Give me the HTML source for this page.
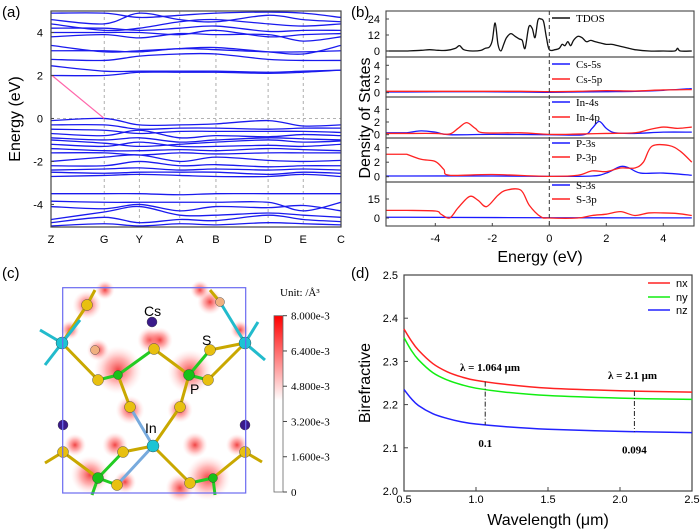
<!DOCTYPE html>
<html><head><meta charset="utf-8"><style>
html,body{margin:0;padding:0;background:#fff}
svg{display:block;font-family:"Liberation Sans",sans-serif}
.serif{font-family:"Liberation Serif",serif}
</style></head><body>
<svg id="fig" width="700" height="532" viewBox="0 0 700 532" xmlns="http://www.w3.org/2000/svg">
<defs>
<linearGradient id="cbar" x1="0" y1="0" x2="0" y2="1">
<stop offset="0" stop-color="#f00"/><stop offset="0.48" stop-color="#fff"/><stop offset="1" stop-color="#fff"/>
</linearGradient>
<radialGradient id="blob"><stop offset="0" stop-color="#e22" stop-opacity="0.85"/><stop offset="0.5" stop-color="#f66" stop-opacity="0.5"/><stop offset="1" stop-color="#fcc" stop-opacity="0"/></radialGradient>
</defs>
<g id="pa"></g>
<g id="pb"></g>
<g id="pc"></g>
<g id="pd"></g>
</svg>
<script>
// ===== Panel (a) data =====
const kLabels=["Z","G","Y","A","B","D","E","C"];
const kPos=[0,1,1.66,2.42,3.1,4.08,4.74,5.45];
const bandE=[
[2.0,2.0,2.15,2.15,2.15,2.1,2.15,2.25],
[2.45,2.2,2.2,2.2,2.2,2.15,2.2,2.25],
[2.75,2.7,2.9,3.0,3.0,2.75,2.7,2.7],
[3.15,3.15,3.1,3.25,3.2,3.1,3.1,3.15],
[3.4,3.1,3.15,3.25,3.3,3.1,3.0,3.4],
[3.8,3.9,3.75,3.95,3.9,3.9,3.6,3.8],
[4.0,4.0,4.0,3.9,4.1,3.8,3.9,3.95],
[4.2,4.2,4.1,4.2,4.3,4.05,4.1,4.1],
[4.4,4.1,4.2,4.5,4.6,4.4,4.3,4.4],
[4.6,4.4,4.9,4.6,4.5,4.8,4.6,4.5],
[4.9,4.9,4.7,4.8,4.9,4.95,4.9,4.7],
[-0.1,0.0,-0.3,-0.3,-0.25,-0.1,-0.35,-0.3],
[-0.3,-0.3,-0.5,-0.45,-0.45,-0.5,-0.45,-0.45],
[-0.5,-0.55,-0.7,-0.6,-0.6,-0.6,-0.6,-0.65],
[-0.7,-0.8,-0.55,-0.9,-0.8,-0.85,-0.75,-0.8],
[-0.9,-1.0,-0.9,-1.1,-1.0,-0.9,-0.95,-1.0],
[-1.0,-1.15,-1.3,-1.2,-1.1,-1.0,-1.1,-1.05],
[-1.2,-1.3,-1.1,-1.3,-1.3,-1.25,-1.3,-1.2],
[-1.4,-1.5,-1.5,-1.45,-1.5,-1.4,-1.45,-1.5],
[-1.6,-1.6,-1.7,-1.6,-1.65,-1.6,-1.6,-1.6],
[-2.0,-1.8,-1.7,-2.0,-1.8,-1.95,-2.0,-1.95],
[-2.2,-2.2,-2.0,-2.2,-2.15,-2.25,-2.2,-2.2],
[-2.4,-2.35,-2.3,-2.4,-2.35,-2.4,-2.35,-2.4],
[-2.5,-2.55,-2.5,-2.5,-2.5,-2.6,-2.5,-2.55],
[-2.7,-2.65,-2.6,-2.65,-2.7,-2.7,-2.6,-2.7],
[-3.5,-3.5,-3.5,-3.55,-3.5,-3.5,-3.5,-3.5],
[-3.85,-3.9,-3.9,-3.9,-3.9,-3.9,-4.3,-3.9],
[-4.1,-4.2,-4.0,-4.3,-4.1,-4.15,-4.05,-4.3],
[-4.7,-4.35,-4.1,-4.5,-4.5,-4.4,-4.5,-4.6],
[-4.85,-4.6,-4.85,-4.7,-4.75,-4.5,-4.7,-4.8],
[-5.0,-4.9,-5.0,-4.9,-4.95,-4.85,-4.9,-4.95]
];
const aTicks=[4,2,0,-2,-4];
// ===== Panel (b) data =====
const tdosE=[-5,-4.5,-4.2,-3.9,-3.6,-3.3,-3.15,-3.0,-2.7,-2.4,-2.25,-2.1,-2.0,-1.9,-1.8,-1.7,-1.6,-1.5,-1.35,-1.2,-1.05,-0.95,-0.85,-0.72,-0.6,-0.5,-0.4,-0.3,-0.2,-0.1,0,0.2,0.35,0.45,0.55,0.65,0.75,0.85,1.0,1.15,1.3,1.45,1.6,1.8,2.0,2.2,2.4,2.6,2.8,3.0,3.5,4.0,4.4,4.5,4.6,5];
const tdosV=[0,0.5,1,0.5,0.5,2,4,1,0,0.5,2,3,8,21,5,0,5,10,13,11,9,8,2,18,17,10,23,24,22,10,1,1,2,5,4,7,4,8,11,10,7,8,7,6,5,5,4,3,2,1,0,0,0,2,0,0];
const csE=[-5,-3,-1,0,1,2,3,4,5];
const cs5s=[0.1,0.15,0.1,0.05,0.1,0.15,0.2,0.35,0.6];
const cs5p=[0.2,0.2,0.2,0.15,0.2,0.3,0.25,0.4,0.45];
const in4sE=[-5,-4.5,-4,-3.5,-2,0,1.2,1.5,1.75,2,2.3,3,4,5];
const in4s=[0.3,0.6,0.4,0,0.05,0,0,1,2.1,1,0.3,0.2,0.4,0.4];
const in4pE=[-5,-4,-3.5,-3.2,-2.9,-2.6,-2.3,-1,0,1,2,3,3.5,4,4.5,5];
const in4p=[0.2,0.2,0.1,1,1.9,1,0.3,0.3,0.05,0.1,0.2,0.3,0.8,1.2,1,1.2];
const p3sE=[-5,-2,0,1.5,2,2.5,2.8,3.2,4,5];
const p3s=[0.1,0.1,0.05,0.1,0.5,1.4,1.2,0.5,0.5,0.2];
const p3pE=[-5,-4.5,-4,-3.7,-3.5,-2,0,1,1.5,2,2.5,3,3.3,3.6,4.2,4.6,5];
const p3p=[3.1,2.4,2.1,1,0.2,0.3,0.05,0.2,0.8,0.7,1.2,1.2,2,4.2,4.3,3.5,2];
const s3sE=[-5,0,5];
const s3s=[0.6,0.2,0.1];
const s3pE=[-5,-4,-3.8,-3.5,-3.2,-2.8,-2.5,-2.2,-1.8,-1.5,-1,-0.7,-0.3,0,1,1.5,2,2.5,3,3.5,4,4.5,5];
const s3p=[6,5.5,3,0,8,17,14,9,18,22,22,10,1,0,0,2,3,5,2,4,4,3.5,2];
const bTicks=[-4,-2,0,2,4];
// ===== Panel (d) data =====
const wl=[0.5,0.55,0.6,0.7,0.8,0.9,1.0,1.2,1.5,2.0,2.5];
const nx=[2.375,2.348,2.326,2.295,2.276,2.264,2.256,2.247,2.238,2.232,2.229];
const ny=[2.355,2.326,2.304,2.274,2.257,2.246,2.238,2.229,2.221,2.215,2.212];
const nz=[2.235,2.214,2.198,2.179,2.168,2.160,2.155,2.149,2.143,2.138,2.135];
const dXTicks=[0.5,1.0,1.5,2.0,2.5];
const dYTicks=[2.0,2.1,2.2,2.3,2.4,2.5];
const markW=[1.064,2.1];
const markTxt=["0.1","0.094"];

const NS="http://www.w3.org/2000/svg";
function el(tag,attrs,parent,txt){const e=document.createElementNS(NS,tag);for(const k in attrs)e.setAttribute(k,attrs[k]);if(txt!==undefined)e.textContent=txt;parent.appendChild(e);return e;}
function smooth(pts){let d="M"+pts[0][0].toFixed(2)+","+pts[0][1].toFixed(2);for(let i=0;i<pts.length-1;i++){const p0=pts[i-1]||pts[i],p1=pts[i],p2=pts[i+1],p3=pts[i+2]||p2;const c1=[p1[0]+(p2[0]-p0[0])/6,p1[1]+(p2[1]-p0[1])/6],c2=[p2[0]-(p3[0]-p1[0])/6,p2[1]-(p3[1]-p1[1])/6];d+="C"+c1[0].toFixed(2)+","+c1[1].toFixed(2)+" "+c2[0].toFixed(2)+","+c2[1].toFixed(2)+" "+p2[0].toFixed(2)+","+p2[1].toFixed(2);}return d;}

// ===== Panel (a) =====
(function(){
const g=document.getElementById('pa');
const L=51,R=341,T=11,B=227;
const X=k=>L+(R-L)*k/kPos[kPos.length-1];
const Y=e=>T+(5-e)/10.05*(B-T);
let t=el('text',{x:2,y:17,'font-size':15},g,'(a)');


const clip=el('clipPath',{id:'clipA'},g);el('rect',{x:L,y:T,width:R-L,height:B-T},clip);
kPos.forEach((k,i)=>{
 if(i>0&&i<kPos.length-1){const v=el('line',{x1:X(k),x2:X(k),y1:T,y2:B,stroke:'#999','stroke-dasharray':'3,3','stroke-width':0.8},g);
 
 }
 const lb=el('text',{x:X(k),y:243,'font-size':11,'text-anchor':'middle'},g,kLabels[i]);
 
 
});
const fl=el('line',{x1:L,x2:R,y1:Y(0),y2:Y(0),stroke:'#999','stroke-dasharray':'3,3','stroke-width':0.8},g);


const bg=el('g',{'clip-path':'url(#clipA)'},g);
bandE.forEach(b=>{
 const p=el('path',{d:smooth(b.map((e,i)=>[X(kPos[i]),Y(e)])),fill:'none',stroke:'#1a1aee','stroke-width':1.3},bg);
 
 
});
const ar=el('line',{x1:X(kPos[1]),y1:Y(0),x2:L+1,y2:Y(2),stroke:'#f6a','stroke-width':1.2},g);


const fr=el('rect',{x:L,y:T,width:R-L,height:B-T,fill:'none',stroke:'#444','stroke-width':1.2},g);


aTicks.forEach(v=>{
 const tk=el('line',{x1:L,x2:L+3,y1:Y(v),y2:Y(v),stroke:'#444'},g);
 
 
 const tl=el('text',{x:L-8,y:Y(v)+4,'font-size':11,'text-anchor':'end'},g,String(v));
 
 
});
const yt=el('text',{transform:'translate(20,119) rotate(-90)','font-size':16,'text-anchor':'middle'},g,'Energy (eV)');


})();

// ===== Panel (b) =====
(function(){
const g=document.getElementById('pb');
const L=386,R=694;
const X=e=>549.3+e*28.5;
let t=el('text',{x:351,y:17,'font-size':15},g,'(b)');


const subs=[
 {top:11,bot:57,zero:51,scale:1.333,ticks:[24,12,0],series:[[tdosE,tdosV,'#111','TDOS',18]]},
 {top:57,bot:97,zero:92.7,scale:6.85,ticks:[4,2,0],series:[[csE,cs5s,'#1a1aff','Cs-5s',64],[csE,cs5p,'#f22','Cs-5p',79]]},
 {top:97,bot:138,zero:134.7,scale:6.35,ticks:[4,2,0],series:[[in4sE,in4s,'#1a1aff','In-4s',102],[in4pE,in4p,'#f22','In-4p',117]]},
 {top:138,bot:182,zero:176.7,scale:7.25,ticks:[4,2,0],series:[[p3sE,p3s,'#1a1aff','P-3s',143],[p3pE,p3p,'#f22','P-3p',157]]},
 {top:182,bot:226,zero:218,scale:1.267,ticks:[15,0],series:[[s3sE,s3s,'#1a1aff','S-3s',185],[s3pE,s3p,'#f22','S-3p',199]]}
];
subs.forEach((s,si)=>{
 const cid='clipB'+si;const c=el('clipPath',{id:cid},g);el('rect',{x:L,y:s.top,width:R-L,height:s.bot-s.top},c);
 const sg=el('g',{'clip-path':'url(#'+cid+')'},g);
 s.series.forEach(sr=>{
  const pts=sr[0].map((e,i)=>[X(e),s.zero-sr[1][i]*s.scale]);
  const d="M"+L+","+pts[0][1].toFixed(2)+"L"+smooth(pts).slice(1);
  const p=el('path',{d:d,fill:'none',stroke:sr[2],'stroke-width':1.3},sg);
  
  
  const ll=el('line',{x1:552,x2:570,y1:sr[4],y2:sr[4],stroke:sr[2],'stroke-width':1.5},g);
  
  
  const lt=el('text',{x:576,y:sr[4]+4,'font-size':11,class:'serif'},g,sr[3]);
  
  
 });
 const fr=el('rect',{x:L,y:s.top,width:R-L,height:s.bot-s.top,fill:'none',stroke:'#444','stroke-width':1.1},g);
 
 
 s.ticks.forEach(v=>{
  const y=s.zero-v*s.scale;
  const tk=el('line',{x1:L,x2:L+3,y1:y,y2:y,stroke:'#444'},g);
  
  
  const tl=el('text',{x:L-6,y:y+4,'font-size':11,'text-anchor':'end'},g,String(v));
  
  
 });
});
const zl=el('line',{x1:X(0),x2:X(0),y1:11,y2:226,stroke:'#333','stroke-dasharray':'4,3','stroke-width':1},g);


bTicks.forEach(v=>{
 const tk=el('line',{x1:X(v),x2:X(v),y1:226,y2:223,stroke:'#444'},g);
 
 
 const tl=el('text',{x:X(v),y:242,'font-size':11,'text-anchor':'middle'},g,String(v));
 
 
});
const xt=el('text',{x:540,y:262,'font-size':16,'text-anchor':'middle'},g,'Energy (eV)');


const yt=el('text',{transform:'translate(370,118) rotate(-90)','font-size':16,'text-anchor':'middle'},g,'Density of States');


})();

// ===== Panel (c) =====
(function(){
const g=document.getElementById('pc');
let t=el('text',{x:2,y:278,'font-size':15},g,'(c)');


const blobs=[[87,305,9],[118,370,15],[190,372,14],[98,350,7],[210,302,8],[150,340,8],[160,340,8],[130,410,9],[180,410,8],[75,445,7],[237,445,7],[115,445,8],[195,445,8],[90,475,12],[208,478,14],[125,482,7],[180,488,9],[105,290,6],[200,290,6],[70,330,6],[240,330,6]];
blobs.forEach(b=>{const c=el('circle',{cx:b[0],cy:b[1],r:b[2]*1.6,fill:'url(#blob)'},g);
 
 });
const bonds=[[62,343,87,305,'#c9a800'],[62,343,98,380,'#c9a800'],[98,380,118,375,'#2c2'],[118,375,154,349,'#2c2'],[154,349,189,375,'#c9a800'],[189,375,208,380,'#2c2'],[208,380,245,343,'#c9a800'],[189,375,210,350,'#2c2'],[210,350,245,343,'#c9a800'],[189,375,180,407,'#c9a800'],[180,407,153,446,'#c9a800'],[153,446,130,407,'#7ad'],[130,407,118,375,'#c9a800'],[153,446,123,452,'#c9a800'],[123,452,98,478,'#2c2'],[98,478,63,452,'#c9a800'],[98,478,117,485,'#2c2'],[117,485,153,446,'#7ad'],[153,446,190,483,'#c9a800'],[190,483,213,478,'#2c2'],[213,478,245,452,'#c9a800'],[62,343,40,330,'#2bc'],[62,343,45,365,'#2bc'],[62,343,80,320,'#2bc'],[245,343,265,360,'#2bc'],[245,343,258,322,'#2bc'],[63,452,45,463,'#c9a800'],[245,452,262,462,'#c9a800'],[98,478,92,495,'#2c2'],[213,478,215,495,'#2c2'],[87,305,95,290,'#c9a800'],[220,302,210,290,'#c9a800'],[220,302,245,343,'#2bc']];
bonds.forEach(b=>{const l=el('line',{x1:b[0],y1:b[1],x2:b[2],y2:b[3],stroke:b[4],'stroke-width':3},g);
 
 });
const atoms=[[152,322,5,'#3a1a8a','cs-atom'],[63,425,5,'#3a1a8a','cs-atom'],[245,425,5,'#3a1a8a','cs-atom'],[62,343,6,'#1cc4d4','in-atom'],[245,343,6,'#1cc4d4','in-atom'],[153,446,6,'#1cc4d4','in-atom'],[189,375,5.5,'#18c018','p-atom'],[118,375,4.5,'#18c018','p-atom'],[98,478,5.5,'#18c018','p-atom'],[213,478,4.5,'#18c018','p-atom'],[87,305,5.5,'#e8c010','s-atom'],[154,349,5.5,'#e8c010','s-atom'],[210,350,5.5,'#e8c010','s-atom'],[208,380,5.5,'#e8c010','s-atom'],[98,380,5.5,'#e8c010','s-atom'],[180,407,5.5,'#e8c010','s-atom'],[130,407,5.5,'#e8c010','s-atom'],[63,452,5.5,'#e8c010','s-atom'],[245,452,5.5,'#e8c010','s-atom'],[123,452,5.5,'#e8c010','s-atom'],[117,485,5.5,'#e8c010','s-atom'],[190,483,5.5,'#e8c010','s-atom'],[95,350,4.5,'#f0b080','s-atom'],[220,302,4.5,'#f0b080','s-atom']];
atoms.forEach(a=>{const c=el('circle',{cx:a[0],cy:a[1],r:a[2],fill:a[3],stroke:'#333','stroke-width':0.4},g);
 
 });
const box=el('rect',{x:62.7,y:287.7,width:183,height:205.3,fill:'none',stroke:'#6a6af0','stroke-width':1.2},g);


[['Cs',144,316],['S',202,345],['P',190,394],['In',145,433]].forEach(l=>{const tx=el('text',{x:l[1],y:l[2],'font-size':14},g,l[0]);
 
 });
const cb=el('rect',{x:274,y:315.7,width:9,height:176.3,fill:'url(#cbar)',stroke:'#666','stroke-width':0.8},g);


const ut=el('text',{x:280,y:296,'font-size':11,class:'serif'},g,'Unit: /Å³');


['8.000e-3','6.400e-3','4.800e-3','3.200e-3','1.600e-3','0'].forEach((s,i)=>{const y=315.7+i*176.3/5;
 const tk=el('line',{x1:283,x2:287,y1:y,y2:y,stroke:'#444'},g);
 
 
 const tl=el('text',{x:291,y:y+4,'font-size':11,class:'serif'},g,s);
 
 });
})();

// ===== Panel (d) =====
(function(){
const g=document.getElementById('pd');
const L=404,R=692,T=275,B=491;
const X=w=>L+(w-0.5)/2*(R-L);
const Y=n=>B-(n-2.0)/0.5*(B-T);
let t=el('text',{x:351,y:278,'font-size':15},g,'(d)');


const fr=el('rect',{x:L,y:T,width:R-L,height:B-T,fill:'none',stroke:'#444','stroke-width':1.2},g);


const series=[[nx,'#f22','nx',283],[ny,'#1e1','ny',297],[nz,'#22f','nz',310]];
series.forEach(s=>{
 const p=el('path',{d:smooth(wl.map((w,i)=>[X(w),Y(s[0][i])])),fill:'none',stroke:s[1],'stroke-width':1.5},g);
 
 
 const ll=el('line',{x1:648,x2:670,y1:s[3],y2:s[3],stroke:s[1],'stroke-width':1.5},g);
 
 
 const lt=el('text',{x:676,y:s[3]+4,'font-size':11},g,s[2]);
 
 
});
function interp(arr,w){for(let i=0;i<wl.length-1;i++){if(w>=wl[i]&&w<=wl[i+1]){const f=(w-wl[i])/(wl[i+1]-wl[i]);return arr[i]+f*(arr[i+1]-arr[i]);}}return arr[arr.length-1];}
markW.forEach((w,i)=>{
 const ml=el('line',{x1:X(w),x2:X(w),y1:Y(interp(nx,w)),y2:Y(interp(nz,w)),stroke:'#222','stroke-dasharray':'5,2,1,2','stroke-width':1},g);
 
 
 const mt=el('text',{x:X(w),y:Y(interp(nz,w))+22,'font-size':11,'font-weight':'bold','text-anchor':'middle',class:'serif'},g,markTxt[i]);
 
 
});
const a1=el('text',{x:460,y:371,'font-size':11,'font-weight':'bold',class:'serif'},g,'λ = 1.064 μm');


const a2=el('text',{x:608,y:379,'font-size':11,'font-weight':'bold',class:'serif'},g,'λ = 2.1 μm');


dXTicks.forEach(v=>{
 const tk=el('line',{x1:X(v),x2:X(v),y1:B,y2:B-4,stroke:'#444'},g);
 
 
 const tl=el('text',{x:X(v),y:503,'font-size':11,'text-anchor':'middle'},g,v.toFixed(1));
 
 
});
dYTicks.forEach(v=>{
 const tk=el('line',{x1:L,x2:L+4,y1:Y(v),y2:Y(v),stroke:'#444'},g);
 
 
 const tl=el('text',{x:L-6,y:Y(v)+4,'font-size':11,'text-anchor':'end'},g,v.toFixed(1));
 
 
});
const xt=el('text',{x:548,y:525,'font-size':16,'text-anchor':'middle'},g,'Wavelength (μm)');


const yt=el('text',{transform:'translate(370,383) rotate(-90)','font-size':16,'text-anchor':'middle'},g,'Birefractive');


})();
</script>
</body></html>
